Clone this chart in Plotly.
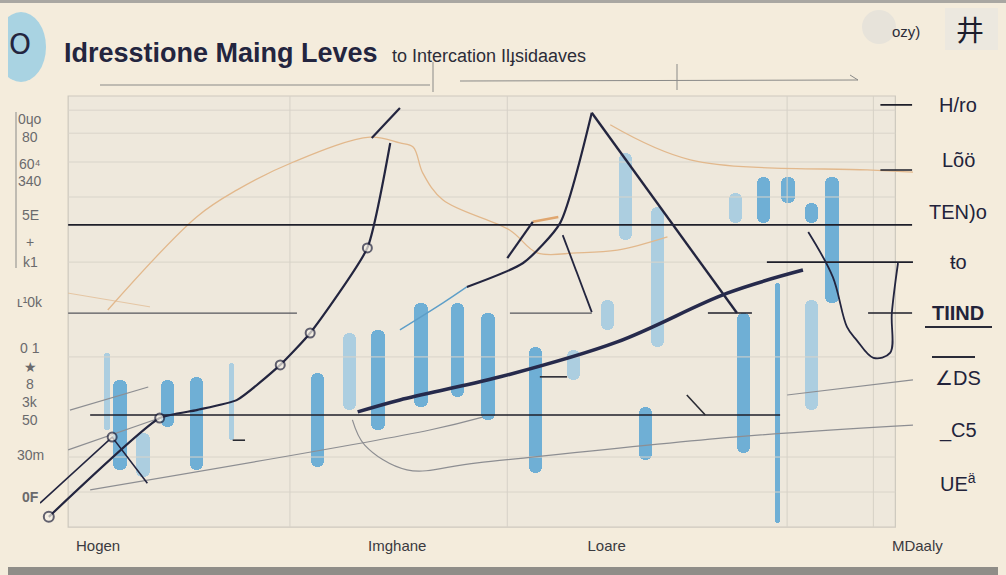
import plotly.graph_objects as go

# ---- data ----
# candles: x position, low, high
bar_x = [7.6, 9.1, 11.7, 14.5, 17.8, 21.8, 31.5, 35.2, 38.4, 43.3, 47.4, 50.9, 56.3,
         60.6, 64.5, 66.5, 70.2, 68.8, 79.0, 82.2, 85.0, 87.7, 90.0, 79.9, 83.8, 87.7]
bar_low = [23.7, 14.7, 13.1, 24.4, 14.7, 21.4, 15.3, 28.2, 23.7, 28.9, 31.2, 26.0, 14.0,
           35.0, 46.3, 66.6, 42.4, 16.9, 70.4, 70.4, 74.9, 70.4, 52.4, 18.5, 2.7, 28.2]
bar_high = [41.1, 35.0, 23.0, 35.0, 35.7, 38.8, 36.6, 45.6, 46.3, 52.4, 52.4, 50.1, 42.4,
            41.8, 53.0, 86.2, 74.0, 28.9, 77.2, 80.8, 80.8, 74.9, 80.8, 50.1, 56.9, 53.0]
bar_tone = ["l", "m", "l", "m", "m", "l", "m", "l", "m", "m", "m", "m", "m",
            "l", "l", "l", "l", "m", "l", "m", "m", "m", "m", "m", "m", "l"]
bar_thin = [1, 0, 0, 0, 0, 1, 0, 0, 0, 0, 0, 0, 0, 0, 0, 0, 0, 0, 0, 0, 0, 0, 0, 0, 1, 0]

# main rising path
rise_x = [1.0, 13.6, 17.8, 22.4, 27.3, 30.7, 37.2, 39.8]
rise_y = [4.1, 26.4, 28.2, 30.5, 38.4, 45.6, 64.8, 88.5]
rise_dots = [0, 1, 4, 5, 6]
stub_x = [37.7, 40.9]
stub_y = [89.6, 96.4]
early_x = [0.0, 8.2, 12.2]
early_y = [7.2, 22.1, 11.7]

# trend line
trend_x = [36.1, 40.9, 52.3, 65.6, 78.1, 86.7]
trend_y = [27.8, 30.5, 35.7, 43.6, 54.6, 59.8]

# peak
peak_left_x = [62.7, 59.1, 54.9, 48.5]
peak_left_y = [95.3, 70.4, 61.4, 56.0]
peak_tail_x = [48.5, 45.8, 40.9]
peak_tail_y = [56.0, 52.4, 46.3]
peak_right_x = [62.7, 79.2]
peak_right_y = [95.3, 50.1]
seg_a_x, seg_a_y = [53.1, 56.0], [62.5, 70.7]
seg_b_x, seg_b_y = [59.4, 62.7], [67.7, 50.3]

# right hook
hook_x = [87.3, 90.1, 91.7, 92.8, 94.7, 96.6, 96.8, 97.5]
hook_y = [68.4, 58.2, 47.0, 44.0, 40.0, 41.1, 50.1, 61.4]

# moving averages (orange)
ma1_x = [7.7, 17.8, 22.4, 28.8, 37.5, 40.9, 42.4, 43.5, 45.8, 53.4, 56.5, 61.0, 65.6, 71.3]
ma1_y = [50.8, 71.8, 77.9, 84.2, 89.8, 88.5, 87.6, 81.7, 75.6, 68.8, 63.7, 63.7, 64.3, 67.3]
ma2_x = [64.8, 73.9, 94.0, 99.2]
ma2_y = [92.6, 84.7, 82.4, 81.9]
ma3_x = [3.2, 12.5]
ma3_y = [54.6, 51.5]
ma4_x = [56.0, 58.9]
ma4_y = [70.7, 71.8]

# thin grey guides
guides = [
    ([3.2, 13.6], [19.2, 26.4]),
    ([3.4, 12.3], [28.2, 33.4]),
    ([5.7, 44.3, 50.3], [10.2, 23.7, 26.6]),
    ([35.5, 36.9, 41.7, 49.7, 78.8, 99.2], [26.0, 20.3, 14.7, 16.3, 22.1, 24.8]),
    ([84.9, 99.2], [31.6, 35.0]),
]
ticks_dark = [
    ([73.5, 75.6], [31.6, 27.1]),
    ([56.8, 59.9], [35.7, 35.7]),
    ([21.9, 23.3], [21.4, 21.4]),
]

# support / resistance levels: y, x start, x end
level_y = [70.0, 27.1, 61.6, 50.1, 50.1, 97.1, 82.4]
level_x0 = [3.2, 5.7, 82.6, 94.1, 75.9, 95.5, 95.5]
level_x1 = [99.1, 84.1, 99.2, 99.1, 80.9, 99.1, 99.1]
soft_level_y = [50.1, 50.1]
soft_level_x0 = [3.2, 53.4]
soft_level_x1 = [29.2, 62.7]

grid_y = [95.9, 90.7, 84.2, 76.3, 61.6, 40.2, 17.6, 9.7]
grid_x = [28.4, 53.1, 84.9, 94.7]

x_ticks = [6.6, 40.6, 64.4, 99.7]
x_labels = ["Hogen", "Imghane", "Loare", "MDaaly"]

right_labels = ["H/ro", "Lõö", "TEN)o", "ŧo", "<b>TIIND</b>", "∠DS", "_C5", "UE<sup>ä</sup>"]
right_label_py = [105, 160, 212, 262, 313, 378, 430, 482]
left_labels = ["0ɥo", "80", "60⁴", "340", "5E", "+", "k1", "ʟ¹0k", "0 1", "★", "8",
               "3k", "50", "30m", "<b>0F</b>"]
left_label_py = [119, 137, 164, 181, 215, 242, 262, 302, 348, 367, 384, 402, 420, 455, 497]

# ---- styling ----
BG = "#f4ecdc"
NAVY = "#23253f"
ORANGE = "#e2b88c"
GREY = "#8d8e92"


# page pixels -> plot paper fraction (plot area spans x 40..920, y 92..535 on the page)
def fx(px):
    return (px - 40) / 880


def fy(py):
    return (535 - py) / 443


fig = go.Figure()

# candles
tone = {"m": "rgba(96,168,212,0.9)", "l": "rgba(150,198,226,0.75)"}
fig.add_trace(go.Bar(
    x=bar_x, y=[h - l for h, l in zip(bar_high, bar_low)], base=bar_low,
    width=[0.6 if t else 1.5 for t in bar_thin],
    marker=dict(color=[tone[t] for t in bar_tone], line_width=0, cornerradius=6),
    hoverinfo="skip", showlegend=False))


def add_line(xs, ys, color, width, shape="linear", opacity=1.0, smoothing=1.0):
    fig.add_trace(go.Scatter(x=xs, y=ys, mode="lines", opacity=opacity,
                             line=dict(color=color, width=width, shape=shape,
                                       smoothing=smoothing if shape == "spline" else None),
                             hoverinfo="skip", showlegend=False))


# faint grid
for gy in grid_y:
    add_line([3.2, 97.2], [gy, gy], "#d9d4ca", 1)
for gx in grid_x:
    add_line([gx, gx], [1.8, 99.1], "#d6d1c7", 1)

# orange averages
add_line(ma1_x, ma1_y, ORANGE, 1.3, "spline")
add_line(ma2_x, ma2_y, ORANGE, 1.3, "spline")
add_line(ma3_x, ma3_y, ORANGE, 1.0, opacity=0.7)
add_line(ma4_x, ma4_y, "#e0a66e", 2.5)

# grey guides
for gxs, gys in guides:
    add_line(gxs, gys, GREY, 1.2, "spline")

# levels
for ly, a, b in zip(soft_level_y, soft_level_x0, soft_level_x1):
    add_line([a, b], [ly, ly], "#55565c", 1.2)
for ly, a, b in zip(level_y, level_x0, level_x1):
    add_line([a, b], [ly, ly], "#1e1f2a", 1.6)

# price paths
add_line(rise_x, rise_y, NAVY, 2.2, "spline", smoothing=0.5)
add_line(stub_x, stub_y, NAVY, 2.2)
add_line(early_x, early_y, NAVY, 1.6)
add_line(peak_left_x, peak_left_y, NAVY, 2.2, "spline", smoothing=0.6)
add_line(peak_tail_x, peak_tail_y, "#5d9ec8", 1.4, "spline")
add_line(peak_right_x, peak_right_y, NAVY, 2.4)
add_line(seg_a_x, seg_a_y, NAVY, 2.2)
add_line(seg_b_x, seg_b_y, NAVY, 1.8)
add_line(hook_x, hook_y, NAVY, 1.8, "spline")
for txs, tys in ticks_dark:
    add_line(txs, tys, "#2a2b33", 1.6)
add_line(trend_x, trend_y, "#262a4c", 3.6, "spline")

# open circles on the rising path
fig.add_trace(go.Scatter(
    x=[rise_x[i] for i in rise_dots] + [early_x[1]],
    y=[rise_y[i] for i in rise_dots] + [early_y[1]],
    mode="markers", hoverinfo="skip", showlegend=False,
    marker=dict(size=[10, 9, 9, 9, 9, 9], color="#f6f1e6", line=dict(color=NAVY, width=2))))

# ---- decorations ----
shapes = [
    dict(type="rect", xref="x", yref="y", x0=3.2, x1=97.2, y0=1.8, y1=99.1,
         fillcolor="#eee8dc", line=dict(color="#cdc8be", width=1.2), layer="below"),
    # logo blob
    dict(type="circle", xref="paper", yref="paper", x0=fx(-4), x1=fx(46), y0=fy(82), y1=fy(12),
         fillcolor="#a9d3e2", line_width=0, layer="below"),
    # top-right grey blobs
    dict(type="circle", xref="paper", yref="paper", x0=fx(862), x1=fx(896), y0=fy(44), y1=fy(10),
         fillcolor="#e7e3da", line_width=0, layer="below"),
    dict(type="rect", xref="paper", yref="paper", x0=fx(945), x1=fx(998), y0=fy(50), y1=fy(8),
         fillcolor="#ece8df", line_width=0, layer="below"),
    # lines under the title
    dict(type="line", xref="paper", yref="paper", x0=fx(100), x1=fx(430), y0=fy(85), y1=fy(85),
         line=dict(color="#8a8a88", width=1)),
    dict(type="line", xref="paper", yref="paper", x0=fx(433), x1=fx(433), y0=fy(62), y1=fy(92),
         line=dict(color="#8a8a88", width=1)),
    dict(type="line", xref="paper", yref="paper", x0=fx(460), x1=fx(858), y0=fy(81), y1=fy(80),
         line=dict(color="#8a8a88", width=1)),
    dict(type="line", xref="paper", yref="paper", x0=fx(677), x1=fx(677), y0=fy(64), y1=fy(90),
         line=dict(color="#8a8a88", width=1)),
    dict(type="line", xref="paper", yref="paper", x0=fx(850), x1=fx(858), y0=fy(75), y1=fy(80),
         line=dict(color="#8a8a88", width=1)),
    # left bracket
    dict(type="line", xref="paper", yref="paper", x0=fx(16), x1=fx(16), y0=fy(268), y1=fy(112),
         line=dict(color="#8a8a88", width=1)),
    # underline and dash on right labels
    dict(type="line", xref="paper", yref="paper", x0=fx(925), x1=fx(992), y0=fy(327), y1=fy(327),
         line=dict(color="#2a2b38", width=2)),
    dict(type="line", xref="paper", yref="paper", x0=fx(932), x1=fx(975), y0=fy(357), y1=fy(357),
         line=dict(color="#2a2b38", width=2)),
    # photo frame
    dict(type="rect", xref="paper", yref="paper", x0=fx(0), x1=fx(1006), y0=fy(575), y1=fy(567),
         fillcolor="#8f8d88", line_width=0),
]

ann = [
    dict(text="<b>Idresstione Maing Leves</b>", x=fx(62), y=fy(53), xanchor="left",
         font=dict(size=27, color=NAVY, family="Liberation Sans")),
    dict(text="to Intercation Ilɟsidaaves", x=fx(390), y=fy(56), xanchor="left",
         font=dict(size=18, color="#2c2c38", family="Liberation Sans")),
    dict(text="O", x=fx(20), y=fy(44), font=dict(size=28, color=NAVY, family="DejaVu Sans")),
    dict(text="ozy)", x=fx(906), y=fy(31), font=dict(size=15, color="#2c2c38", family="Liberation Sans")),
    dict(text="井", x=fx(970), y=fy(29), font=dict(size=28, color="#1d1e2c", family="Noto Sans CJK SC")),
]
for t, py in zip(right_labels, right_label_py):
    ann.append(dict(text=t, x=fx(958), y=fy(py), font=dict(size=20, color="#22233a", family="Liberation Sans")))
for t, py in zip(left_labels, left_label_py):
    ann.append(dict(text=t, x=fx(30), y=fy(py),
                    font=dict(size=14, color="#6a6a6c", family="Liberation Sans")))
for a in ann:
    a.update(xref="paper", yref="paper", showarrow=False, yanchor="middle")
    a.setdefault("xanchor", "center")

# the page adds an 8px body margin, so the margins are trimmed by 8px to land on target
fig.update_layout(
    width=1006, height=575,
    margin=dict(l=32, r=94, t=84, b=48),
    paper_bgcolor=BG, plot_bgcolor="rgba(0,0,0,0)",
    shapes=shapes, annotations=ann,
    bargap=0, showlegend=False,
    xaxis=dict(range=[0, 100], showgrid=False, zeroline=False, showline=False,
               tickvals=x_ticks, ticktext=x_labels, ticks="",
               tickfont=dict(size=15, color="#3a3a40", family="Liberation Sans Narrow, Liberation Sans")),
    yaxis=dict(range=[0, 100], visible=False),
)

# paint the page margin in the same cream, with the thin grey frame edge on top
page_bg = ("document.body.style.background = "
           "'linear-gradient(#a9a7a2 0px, #a9a7a2 3px, " + BG + " 3px)';")
fig.write_html("out.html", post_script=page_bg)
